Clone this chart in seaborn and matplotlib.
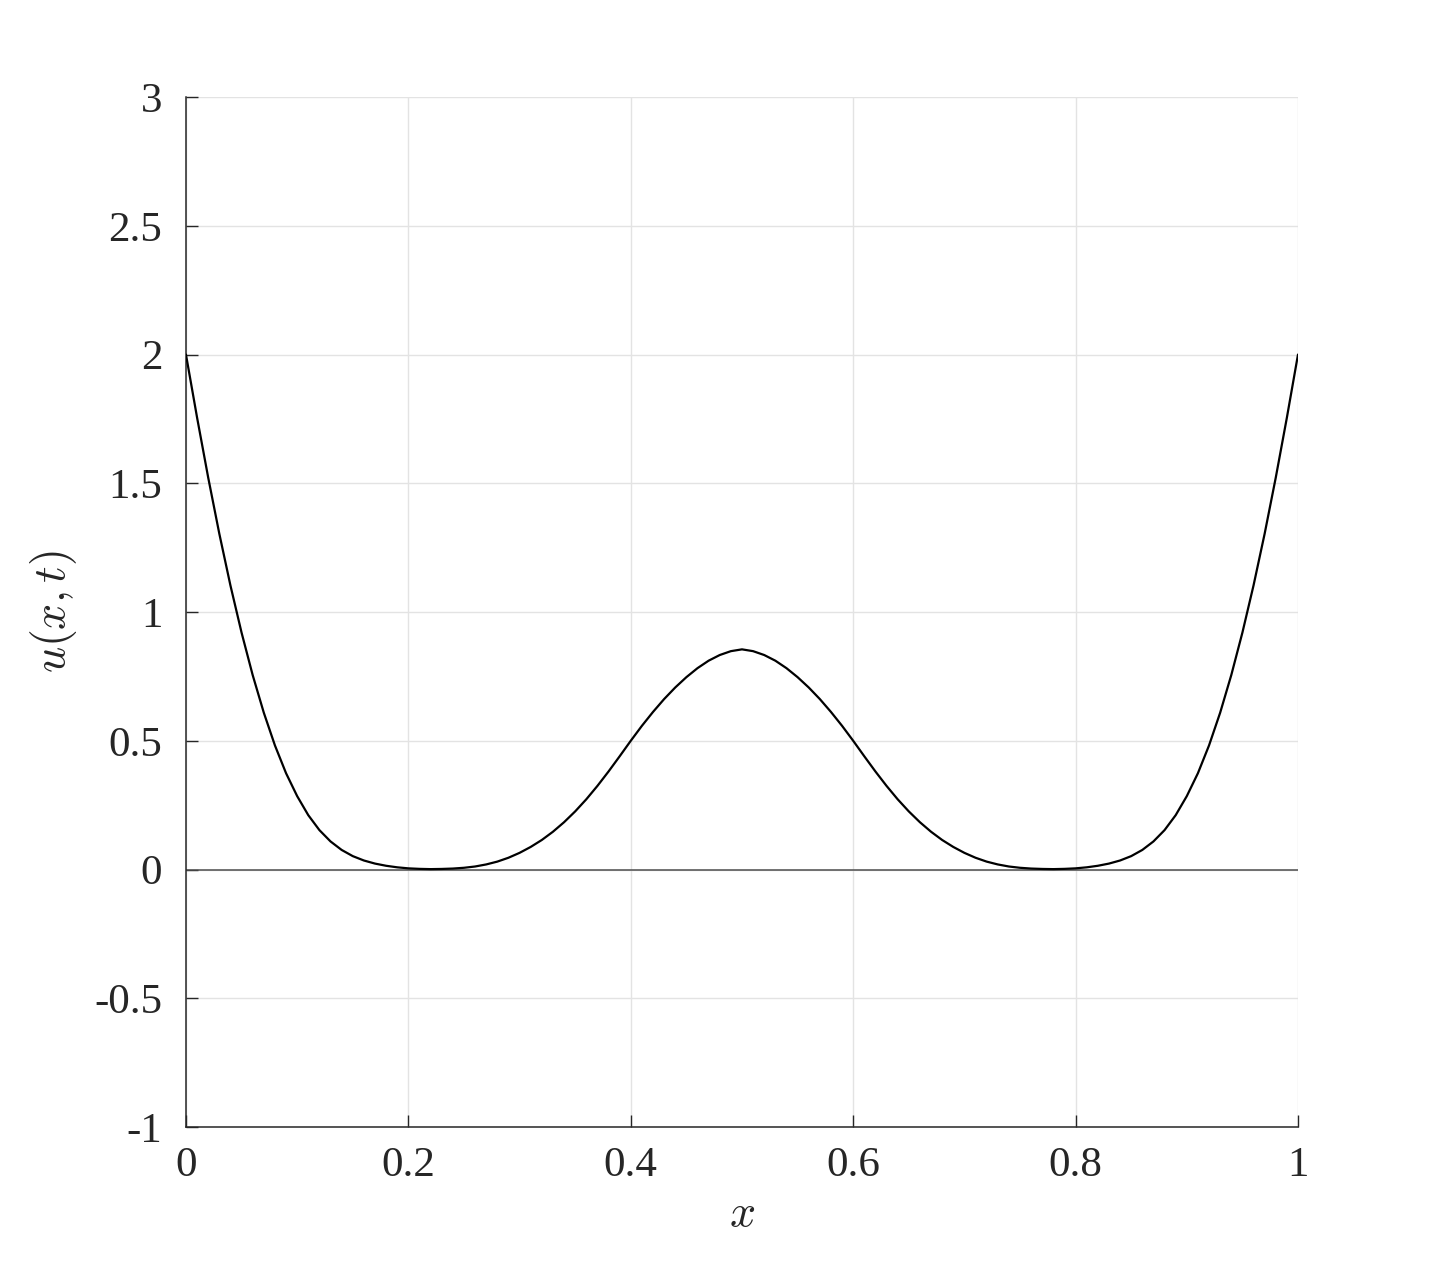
import numpy as np
import pandas as pd
import seaborn as sns
import matplotlib
matplotlib.use('Agg')
import matplotlib.pyplot as plt

# u(x,t) at x = 0, 0.01, ..., 1
u_vals = [2.000, 1.755, 1.522, 1.304, 1.103, 0.920, 0.755, 0.609, 0.482, 0.374,
          0.285, 0.211, 0.153, 0.109, 0.076, 0.052, 0.035, 0.023, 0.0145, 0.0085,
          0.0045, 0.0025, 0.0015, 0.0022, 0.0037, 0.0067, 0.0117, 0.0197, 0.0307, 0.0457,
          0.0647, 0.0877, 0.1147, 0.1467, 0.1837, 0.2257, 0.2727, 0.3247, 0.3807, 0.4397,
          0.500, 0.558, 0.612, 0.662, 0.707, 0.747, 0.782, 0.811, 0.833, 0.848,
          0.855,
          0.848, 0.833, 0.811, 0.782, 0.747, 0.707, 0.662, 0.612, 0.558, 0.500,
          0.4397, 0.3807, 0.3247, 0.2727, 0.2257, 0.1837, 0.1467, 0.1147, 0.0877, 0.0647,
          0.0457, 0.0307, 0.0197, 0.0117, 0.0067, 0.0037, 0.0022, 0.0015, 0.0025, 0.0045,
          0.0085, 0.0145, 0.023, 0.035, 0.052, 0.076, 0.109, 0.153, 0.211, 0.285,
          0.374, 0.482, 0.609, 0.755, 0.920, 1.103, 1.304, 1.522, 1.755, 2.000]
x_vals = np.linspace(0, 1, len(u_vals))

x_ticks = [0, 0.2, 0.4, 0.6, 0.8, 1]
x_tick_labels = ['0', '0.2', '0.4', '0.6', '0.8', '1']
y_ticks = [-1, -0.5, 0, 0.5, 1, 1.5, 2, 2.5, 3]
y_tick_labels = ['-1', '-0.5', '0', '0.5', '1', '1.5', '2', '2.5', '3']

df = pd.DataFrame({'x': x_vals, 'u': u_vals})

sns.set_theme(style='whitegrid')
plt.rcParams['font.family'] = ['Liberation Serif', 'DejaVu Serif']
plt.rcParams['mathtext.fontset'] = 'cm'
plt.rcParams['axes.unicode_minus'] = False

fig = plt.figure(figsize=(14.36, 12.67), dpi=100)
ax = fig.add_axes([0.1295, 0.1105, 0.7744, 0.8129])

# zero line
ax.axhline(0, color='#4d4d4d', lw=1.1, zorder=2)
sns.lineplot(data=df, x='x', y='u', color='black', lw=1.6, ax=ax, zorder=3)

ax.set_xlim(0, 1)
ax.set_ylim(-1, 3)
ax.set_xticks(x_ticks)
ax.set_xticklabels(x_tick_labels)
ax.set_yticks(y_ticks)
ax.set_yticklabels(y_tick_labels)

ax.grid(True, color='#e3e3e3', lw=1.0)
for side in ['top', 'right']:
    ax.spines[side].set_visible(False)
for side in ['left', 'bottom']:
    ax.spines[side].set_visible(True)
    ax.spines[side].set_color('#262626')
    ax.spines[side].set_linewidth(1.1)

ax.tick_params(axis='both', direction='in', length=8.5, width=1.0, color='#262626',
               labelsize=31, labelcolor='#262626')
ax.tick_params(axis='x', bottom=True, pad=14)
ax.tick_params(axis='y', left=True, pad=17)

ax.set_xlabel('$x$', fontsize=33, color='#262626', labelpad=6)
ax.set_ylabel('$u(x,t)$', fontsize=33, color='#262626', labelpad=11)

fig.savefig('out.png', dpi=100, facecolor='white')
